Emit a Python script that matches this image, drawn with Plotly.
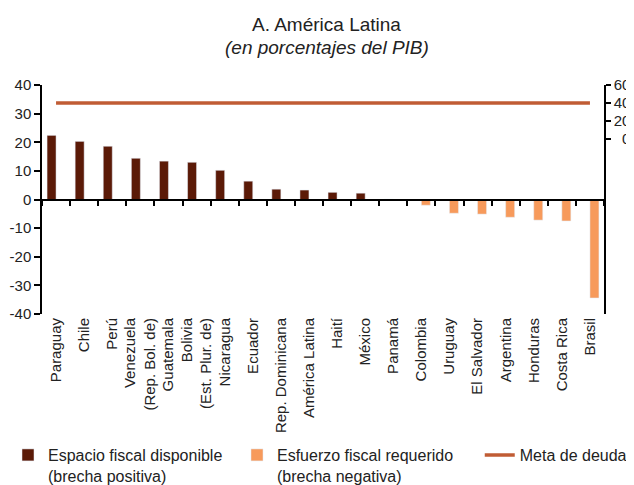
import plotly.graph_objects as go

# --- datos ---
paises = [
    "Paraguay", "Chile", "Perú", "Venezuela<br>(Rep. Bol. de)", "Guatemala",
    "Bolivia<br>(Est. Plur. de)", "Nicaragua", "Ecuador", "Rep. Dominicana",
    "América Latina", "Haití", "México", "Panamá", "Colombia", "Uruguay",
    "El Salvador", "Argentina", "Honduras", "Costa Rica", "Brasil",
]
brecha_positiva = [22.4, 20.3, 18.6, 14.4, 13.4, 13.0, 10.2, 6.4, 3.6, 3.3, 2.5, 2.2,
                   0.1, None, None, None, None, None, None, None]
brecha_negativa = [None, None, None, None, None, None, None, None, None, None, None, None,
                   None, -2.0, -4.8, -5.1, -6.2, -7.2, -7.5, -34.4]
meta_deuda = [40] * len(paises)

y_ticks = [-40, -30, -20, -10, 0, 10, 20, 30, 40]
y2_ticks = [0, 20, 40, 60]

FONT = "Liberation Sans, Arial, sans-serif"
TXT = "#222222"

rango_x = [-0.5, len(paises) - 0.5]

fig = go.Figure()

fig.add_trace(go.Bar(
    x=paises, y=brecha_positiva,
    name="Espacio fiscal disponible<br>(brecha positiva)",
    marker_color="#5B1A07", legend="legend", showlegend=True,
))
fig.add_trace(go.Bar(
    x=paises, y=brecha_negativa,
    name="Esfuerzo fiscal requerido<br>(brecha negativa)",
    marker_color="#F79A5B", legend="legend2", showlegend=True,
))
fig.add_trace(go.Scatter(
    x=paises, y=meta_deuda, name="Meta de deuda",
    mode="lines", line=dict(color="#C05C34", width=3.5),
    xaxis="x2", yaxis="y2", legend="legend3", showlegend=True,
))

leyenda = dict(
    orientation="h", xref="container", xanchor="left",
    yref="container", y=0.0985, yanchor="top", valign="top",
    font=dict(size=16, color=TXT), bgcolor="rgba(0,0,0,0)",
)

# la página añade 8 px de margen: figura de 626x477
fig.update_layout(
    width=626, height=477, showlegend=True,
    paper_bgcolor="white", plot_bgcolor="white",
    font=dict(family=FONT, size=15, color=TXT),
    margin=dict(l=34, r=30, t=77, b=171),
    barmode="group", bargap=0.36, bargroupgap=0,
    xaxis=dict(
        type="category", range=rango_x, tickangle=-90, showline=False, ticks="",
        showgrid=False, tickfont=dict(size=15), automargin=False,
    ),
    # eje x dibujado en y=0 con marcas entre categorías
    xaxis2=dict(
        type="category", range=rango_x, overlaying="x", anchor="free", position=0.5,
        showline=True, linecolor="black", linewidth=1.5,
        ticks="outside", ticklen=6, tickcolor="black", tickwidth=1.5,
        tickson="boundaries", showticklabels=False, showgrid=False,
        automargin=False,
    ),
    yaxis=dict(
        range=[-40, 40], tickvals=y_ticks, ticktext=[str(v) for v in y_ticks],
        showline=True, linecolor="black", linewidth=1.5,
        ticks="outside", ticklen=6, tickcolor="black", tickwidth=1.5,
        showgrid=False, zeroline=False, tickfont=dict(size=15), automargin=False,
    ),
    yaxis2=dict(
        range=[-195, 60], tickvals=y2_ticks,
        ticktext=[f"{v:>2}".replace(" ", "\u2007") for v in y2_ticks],
        overlaying="y", side="right", anchor="x2",
        showline=True, linecolor="black", linewidth=1.5,
        ticks="outside", ticklen=5, tickcolor="black", tickwidth=1.5,
        showgrid=False, zeroline=False, tickfont=dict(size=15), automargin=False,
    ),
    legend=dict(leyenda, x=-0.0096),
    legend2=dict(leyenda, x=0.3658),
    legend3=dict(leyenda, x=0.7536),
    annotations=[
        dict(text="A. América Latina", xref="paper", yref="paper",
             x=0.507, y=1.266, yanchor="middle", showarrow=False,
             font=dict(size=19, color=TXT)),
        dict(text="<i>(en porcentajes del PIB)</i>", xref="paper", yref="paper",
             x=0.507, y=1.162, yanchor="middle", showarrow=False,
             font=dict(size=19, color=TXT)),
    ],
)

fig.write_html("out.html")
